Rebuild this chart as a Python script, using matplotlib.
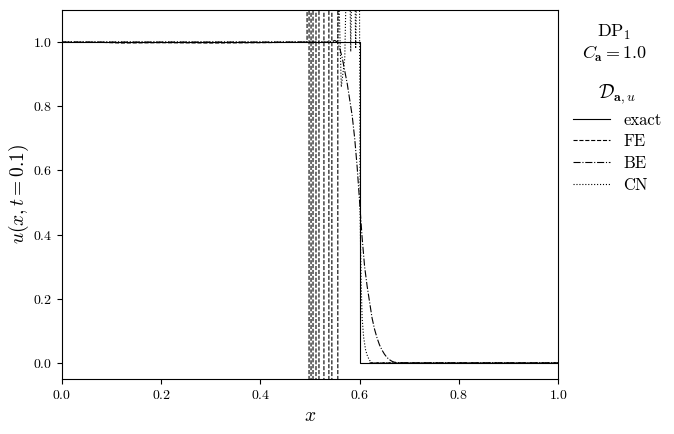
import numpy as np
import matplotlib
matplotlib.use('Agg')
import matplotlib.pyplot as plt

plt.rcParams['font.family'] = 'serif'
plt.rcParams['font.serif'] = ['cmr10']
plt.rcParams['mathtext.fontset'] = 'cm'
plt.rcParams['axes.formatter.use_mathtext'] = True

BIG = 1e4

# exact solution: step at x = 0.6
x_exact = [0.0, 0.6, 0.6, 1.0]
u_exact = [1.0, 1.0, 0.0, 0.0]

# forward Euler: blows up behind the front (values leave the axes)
x_fe = [0.0, 0.08, 0.12, 0.2, 0.3, 0.4, 0.45, 0.494,
        0.494, 0.498, 0.498, 0.502, 0.502, 0.506, 0.506, 0.512, 0.512,
        0.518, 0.518, 0.528, 0.528, 0.538, 0.538, 0.544, 0.544, 0.556, 0.556,
        0.57, 0.62, 1.0]
u_fe = [1.0, 0.999, 0.997, 0.998, 0.997, 0.998, 0.999, 1.0,
        BIG, BIG, -BIG, -BIG, BIG, BIG, -BIG, -BIG, BIG,
        BIG, -BIG, -BIG, BIG, BIG, -BIG, -BIG, BIG, BIG, -BIG,
        np.nan, 0.0, 0.0]

# backward Euler: smeared front
x_be = [0.0, 0.54, 0.55, 0.555, 0.56, 0.565, 0.57, 0.575, 0.58, 0.585, 0.59,
        0.595, 0.6, 0.605, 0.61, 0.615, 0.62, 0.625, 0.63, 0.635, 0.64,
        0.645, 0.65, 0.655, 0.66, 0.665, 0.67, 0.68, 0.7, 1.0]
u_be = [1.0, 1.0, 1.005, 1.0, 0.98, 0.95, 0.91, 0.87, 0.82, 0.77, 0.70,
        0.61, 0.50, 0.39, 0.30, 0.24, 0.19, 0.14, 0.105, 0.078, 0.056,
        0.04, 0.027, 0.017, 0.01, 0.005, 0.002, 0.0005, 0.0, 0.0]

# Crank-Nicolson: spikes behind a sharper front
x_cn = [0.0, 0.55, 0.556, 0.558, 0.563, 0.570, 0.577, 0.578, 0.582,
        0.587, 0.588, 0.592, 0.598, 0.599, 0.601, 0.603, 0.605,
        0.608, 0.612, 0.616, 0.62, 0.625, 1.0]
u_cn = [1.0, 1.0, 1.0, 1.15, 0.86, 0.95, 1.5, 1.5, 0.97,
        1.5, 1.5, 0.98, 1.5, 1.5, 0.45, 0.25, 0.14,
        0.08, 0.04, 0.02, 0.008, 0.0, 0.0]

fig = plt.figure(figsize=(6.74, 4.34), dpi=100)
ax = fig.add_axes([0.092, 0.127, 0.736, 0.85])

lw = 0.8
ax.plot(x_exact, u_exact, color='k', ls='-', lw=lw, label='exact')
ax.plot(x_fe, u_fe, color='k', ls='--', lw=lw, label='FE')
ax.plot(x_be, u_be, color='k', ls='-.', lw=lw, label='BE')
ax.plot(x_cn, u_cn, color='k', ls=':', lw=lw, label='CN')

ax.set_xlim(0, 1)
ax.set_ylim(-0.05, 1.1)
ax.set_xticks([0, 0.2, 0.4, 0.6, 0.8, 1.0])
ax.set_yticks([0, 0.2, 0.4, 0.6, 0.8, 1.0])
ax.tick_params(labelsize=10)
ax.set_xlabel(r'$x$', fontsize=14)
ax.set_ylabel(r'$u(x,t=0.1)$', fontsize=14, labelpad=1)

fig.text(0.911, 0.9, 'DP$_1$\n' + r'$C_{\mathbf{a}}=1.0$', ha='center', va='center',
         fontsize=13, linespacing=1.1)

leg = ax.legend(loc='upper left', bbox_to_anchor=(1.0, 0.845), frameon=False,
                title=r'$\mathcal{D}_{\mathbf{a},u}$', fontsize=12,
                title_fontsize=14, handlelength=2.2, labelspacing=0.38,
                handletextpad=0.8)

fig.savefig('out.png', dpi=100)
